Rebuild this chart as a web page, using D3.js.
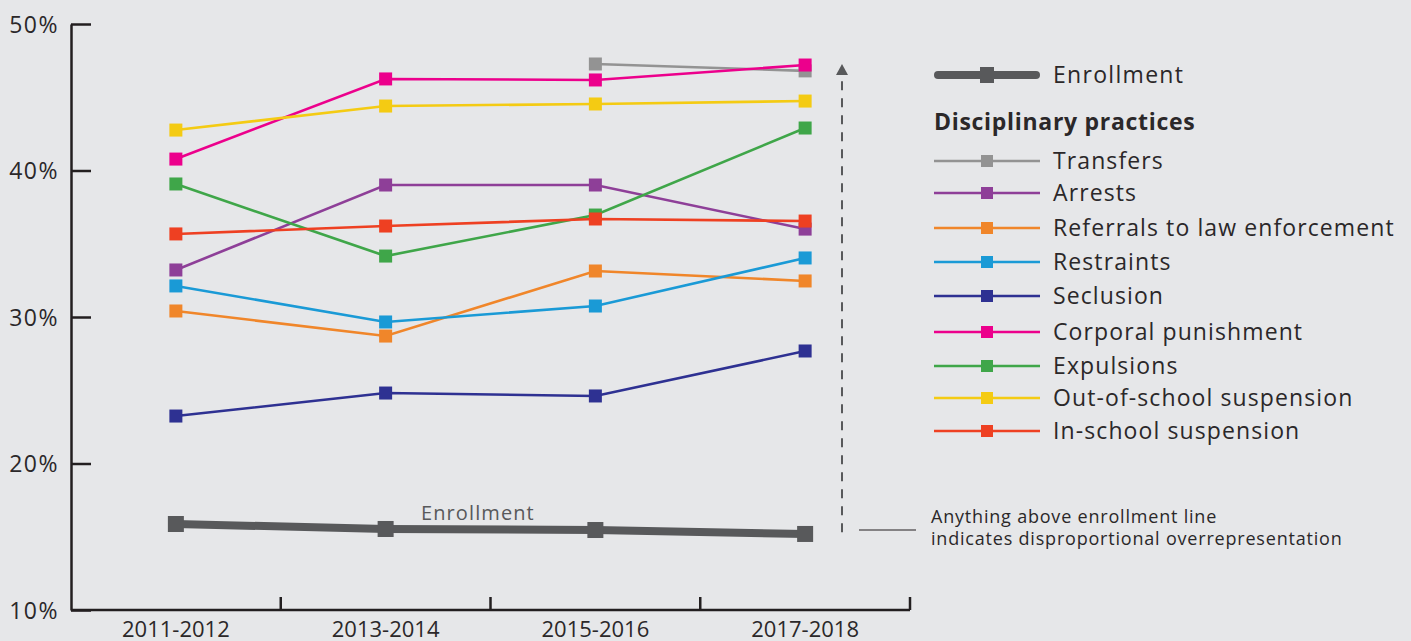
<!DOCTYPE html>
<html><head><meta charset="utf-8">
<script src="https://cdn.jsdelivr.net/npm/d3@7"></script>
<style>
html,body{margin:0;padding:0;background:#e6e7e9;}
svg{display:block;font-family:"Open Sans",sans-serif;}
</style></head>
<body><svg id="c" width="1411" height="641"></svg>
<script>
const years = ["2011-2012","2013-2014","2015-2016","2017-2018"];
const yTicks = [10,20,30,40,50];
const enrollment = [15.87,15.53,15.46,15.19];
const seriesNames = ["Transfers","Arrests","Referrals to law enforcement","Restraints","Seclusion","Corporal punishment","Expulsions","Out-of-school suspension","In-school suspension"];
const seriesColors = ["#939393","#8e3f98","#f0862a","#1a9ad6","#2e3192","#ec008c","#3fa649","#f4cb13","#ee4022"];
const transfers = [null,null,47.27,46.8];
const arrests = [33.21,39.01,39.01,36.0];
const referrals = [30.41,28.7,33.14,32.46];
const restraints = [32.12,29.66,30.75,34.03];
const seclusion = [23.24,24.81,24.61,27.68];
const corporal = [40.78,46.25,46.18,47.2];
const expulsions = [39.08,34.16,36.96,42.9];
const outSchool = [42.76,44.4,44.54,44.74];
const inSchool = [35.67,36.21,36.69,36.55];
const seriesValues = [transfers,arrests,referrals,restraints,seclusion,corporal,expulsions,outSchool,inSchool];

const svg = d3.select("#c");
const x = d3.scaleBand().domain(years).range([71,910]);
const y = d3.scaleLinear().domain([10,50]).range([610,24]);
const axisColor = "#231f20";
const grey = "#58595b";
const textCol = "#2b2829";

// Y axis
const ya = svg.append("g").attr("transform","translate(71,0)")
  .call(d3.axisRight(y).tickValues(yTicks).tickSize(20).tickSizeOuter(0).tickFormat(d=>d+"%"));
ya.select(".domain").attr("stroke",axisColor).attr("stroke-width",2.5);
ya.selectAll(".tick line").attr("stroke",axisColor).attr("stroke-width",2.5);
ya.selectAll(".tick text").attr("x",-12).attr("text-anchor","end").attr("dy","0.35em")
  .attr("fill",textCol).style("font-size","23px").style("letter-spacing","1.5px")
  .style("font-family","'Open Sans',sans-serif");

// X axis
svg.append("line").attr("x1",x.range()[0]).attr("x2",x.range()[1]).attr("y1",y(10)).attr("y2",y(10))
  .attr("stroke",axisColor).attr("stroke-width",2.5);
svg.selectAll(".xt").data(years).join("line").attr("class","xt")
  .attr("x1",d=>x(d)+x.bandwidth()).attr("x2",d=>x(d)+x.bandwidth())
  .attr("y1",y(10)).attr("y2",y(10)-13).attr("stroke",axisColor).attr("stroke-width",2.5);
svg.selectAll(".xl").data(years).join("text").attr("class","xl")
  .attr("x",d=>x(d)+x.bandwidth()/2).attr("y",637).attr("text-anchor","middle")
  .attr("fill",textCol).style("font-size","22px").text(d=>d);

const cx = d=>x(d)+x.bandwidth()/2;

// Enrollment
const enrData = years.map((d,i)=>({k:d,v:enrollment[i]}));
svg.append("path").datum(enrData)
  .attr("d",d3.line().x(d=>cx(d.k)).y(d=>y(d.v)))
  .attr("fill","none").attr("stroke",grey).attr("stroke-width",8);
svg.selectAll(".em").data(enrData).join("rect").attr("class","em")
  .attr("x",d=>cx(d.k)-8).attr("y",d=>y(d.v)-8).attr("width",16).attr("height",16).attr("fill",grey);
svg.append("text").attr("x",421).attr("y",520).attr("fill",grey)
  .style("font-size","20px").style("letter-spacing","1.1px").text("Enrollment");

// Series
seriesNames.forEach((name,si)=>{
  const data = years.map((d,i)=>({k:d,v:seriesValues[si][i]})).filter(d=>d.v!=null);
  const g = svg.append("g");
  g.append("path").datum(data)
    .attr("d",d3.line().x(d=>cx(d.k)).y(d=>y(d.v)))
    .attr("fill","none").attr("stroke",seriesColors[si]).attr("stroke-width",2.6);
  g.selectAll("rect").data(data).join("rect")
    .attr("x",d=>cx(d.k)-6.5).attr("y",d=>y(d.v)-6.5).attr("width",13).attr("height",13)
    .attr("fill",seriesColors[si]);
});

// Dashed arrow
svg.append("line").attr("x1",842).attr("x2",842).attr("y1",y(15.3)).attr("y2",74)
  .attr("stroke",grey).attr("stroke-width",2).attr("stroke-dasharray","9,8");
svg.append("path").attr("d","M836,75 L848,75 L842,64 Z").attr("fill",grey);

// Annotation
svg.append("line").attr("x1",859).attr("x2",916).attr("y1",530).attr("y2",530).attr("stroke","#231f20").attr("stroke-width",1.2);
const ann = svg.append("text").attr("fill",textCol).style("font-size","18px").style("letter-spacing","0.8px");
ann.append("tspan").attr("x",931).attr("y",523).text("Anything above enrollment line");
ann.append("tspan").attr("x",931).attr("y",545).text("indicates disproportional overrepresentation");

// Legend
const lx1 = 934, lx2 = 1040, lm = 987, tx = 1053;
svg.append("line").attr("x1",lx1+4).attr("x2",lx2-4).attr("y1",75).attr("y2",75)
  .attr("stroke",grey).attr("stroke-width",8).attr("stroke-linecap","round");
svg.append("rect").attr("x",lm-7).attr("y",67).attr("width",14).attr("height",16).attr("fill",grey);
svg.append("text").attr("x",tx).attr("y",83).attr("fill",textCol)
  .style("font-size","23px").style("letter-spacing","1.3px").text("Enrollment");
svg.append("text").attr("x",934).attr("y",130).attr("fill",textCol)
  .style("font-size","23px").style("font-weight","bold").style("letter-spacing","0.7px").text("Disciplinary practices");
const legY = [161,193,228,262,296,332,366,398,431];
seriesNames.forEach((name,si)=>{
  const yy = legY[si];
  svg.append("line").attr("x1",lx1).attr("x2",lx2).attr("y1",yy).attr("y2",yy)
    .attr("stroke",seriesColors[si]).attr("stroke-width",2.6);
  svg.append("rect").attr("x",lm-6).attr("y",yy-6).attr("width",12).attr("height",12).attr("fill",seriesColors[si]);
  svg.append("text").attr("x",tx).attr("y",yy+8).attr("fill",textCol)
    .style("font-size","23px").style("letter-spacing","1.1px").text(name);
});
</script></body></html>
